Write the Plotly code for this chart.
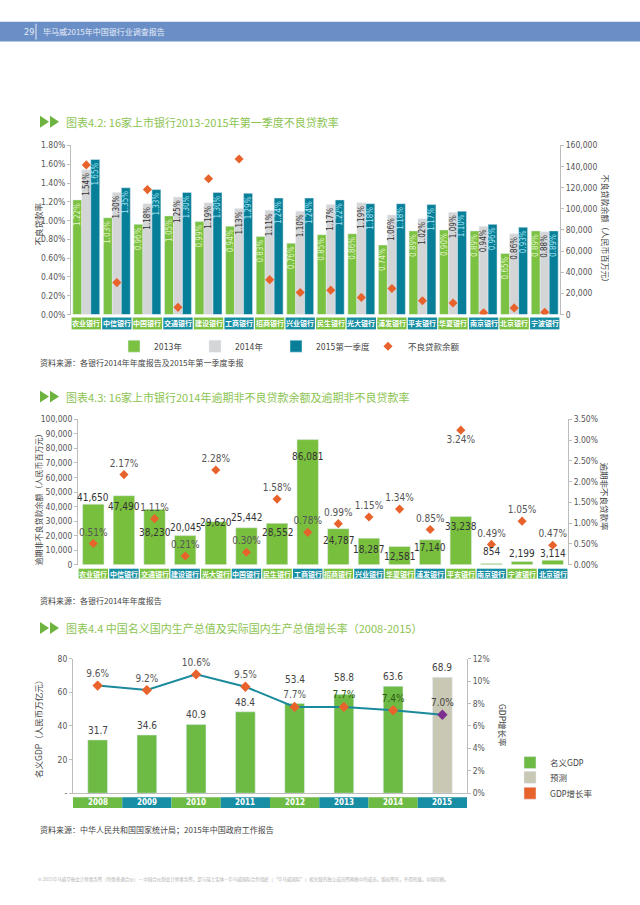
import plotly.graph_objects as go

# ---------------- data ----------------
banks1 = ["农业银行", "中信银行", "中国银行", "交通银行", "建设银行", "工商银行", "招商银行", "兴业银行",
          "民生银行", "光大银行", "浦发银行", "平安银行", "华夏银行", "南京银行", "北京银行", "宁波银行"]
npl_2013 = [1.22, 1.03, 0.96, 1.05, 0.99, 0.94, 0.83, 0.76, 0.85, 0.86, 0.74, 0.89, 0.90, 0.89, 0.65, 0.89]
npl_2014 = [1.54, 1.30, 1.18, 1.25, 1.19, 1.13, 1.11, 1.10, 1.17, 1.19, 1.06, 1.02, 1.09, 0.94, 0.86, 0.88]
npl_2015q1 = [1.65, 1.35, 1.33, 1.30, 1.30, 1.29, 1.24, 1.24, 1.22, 1.18, 1.18, 1.17, 1.10, 0.96, 0.93, 0.89]
npl_balance = [141600, 30200, 118200, 6800, 128500, 147200, 33000, 20900,
               23100, 16200, 24600, 13100, 10900, 1600, 6300, 2200]

banks2 = ["农业银行", "中信银行", "交通银行", "建设银行", "光大银行", "中国银行", "民生银行", "工商银行",
          "招商银行", "兴业银行", "华夏银行", "浦发银行", "平安银行", "南京银行", "宁波银行", "北京银行"]
overdue_balance = [41650, 47490, 38230, 20045, 29620, 25442, 28552, 86081,
                   24787, 18287, 12581, 17140, 33238, 854, 2199, 3114]
overdue_rate = [0.51, 2.17, 1.11, 0.21, 2.28, 0.30, 1.58, 0.78, 0.99, 1.15, 1.34, 0.85, 3.24, 0.49, 1.05, 0.47]

years = ["2008", "2009", "2010", "2011", "2012", "2013", "2014", "2015"]
gdp = [31.7, 34.6, 40.9, 48.4, 53.4, 58.8, 63.6, 68.9]
gdp_growth = [9.6, 9.2, 10.6, 9.5, 7.7, 7.7, 7.4, 7.0]
n_actual = 7  # 2015 is forecast

# ---------------- style ----------------
W, H = 640, 905
def PX(x): return x / W
def PY(y): return 1 - y / H

FONT = "Liberation Sans Narrow, DejaVu Sans Condensed, Noto Sans CJK SC, sans-serif"
CJK = "Noto Sans CJK SC, sans-serif"
GREEN = "#7cc242"
GRAY = "#d3d5d6"
TEAL = "#077f98"
BAND_TEAL = "#178ea4"
ORANGE = "#e8622c"
TITLE_GREEN = "#8cc452"
TICK = "#555555"

fig = go.Figure()
annotations = []
shapes = []

# ---------------- chart 1 ----------------
def npl_bar(vals, name, color, tcolor, leg):
    return go.Bar(x=banks1, y=vals, name=name, marker_color=color,
                  xaxis="x", yaxis="y", texttemplate="%{y:.2f}%", textposition="inside",
                  insidetextanchor="end", textangle=-90, constraintext="none",
                  textfont=dict(size=8, color=tcolor, family=FONT), legend=leg)

fig.add_trace(npl_bar(npl_2013, "2013年", GREEN, "#e4f4cc", "legend"))
fig.add_trace(npl_bar(npl_2014, "2014年", GRAY, "#333333", "legend2"))
fig.add_trace(npl_bar(npl_2015q1, "2015第一季度", TEAL, "#a6e3f2", "legend3"))
fig.add_trace(go.Scatter(x=banks1, y=npl_balance, name="不良贷款余额", mode="markers",
                         marker=dict(symbol="diamond", size=7, color=ORANGE),
                         xaxis="x", yaxis="y2", legend="legend4"))

# ---------------- chart 2 ----------------
fig.add_trace(go.Bar(x=banks2, y=overdue_balance, marker_color="#79bf3e", width=0.7,
                     xaxis="x2", yaxis="y3", showlegend=False))
# label offset from bar top in px (positive = below the top, as in the source layout)
label_offset2 = [-7, 11, 23, -8, 1, -10, 9, 17, 12, 11, 10, 8, 10, -12, -8, -7]
for i, (v, off) in enumerate(zip(overdue_balance, label_offset2)):
    annotations.append(dict(x=i, y=v, xref="x2", yref="y3", text=f"{v:,}", showarrow=False,
                            xanchor="center", yanchor="middle", yshift=-off,
                            font=dict(size=10, color="#333333", family=FONT)))
rate_pos = ["top center"] * len(overdue_rate)
rate_pos[12] = "bottom center"
fig.add_trace(go.Scatter(x=banks2, y=overdue_rate, mode="markers+text",
                         texttemplate="%{y:.2f}%", textposition=rate_pos,
                         textfont=dict(size=10, color="#555555", family=FONT),
                         marker=dict(symbol="diamond", size=7, color=ORANGE),
                         xaxis="x2", yaxis="y4", showlegend=False, cliponaxis=False))

# ---------------- chart 3 ----------------
fig.add_trace(go.Bar(x=years[:n_actual], y=gdp[:n_actual], name="名义GDP", marker_color="#6dbb45",
                     width=0.4, offsetgroup="g", xaxis="x3", yaxis="y5", legend="legend5"))
fig.add_trace(go.Bar(x=years[n_actual:], y=gdp[n_actual:], name="预测", marker_color="#c9c8b4",
                     width=0.4, offsetgroup="g", xaxis="x3", yaxis="y5", legend="legend6"))
fig.add_trace(go.Bar(x=[None], y=[None], name="GDP增长率", marker_color=ORANGE,
                     xaxis="x3", yaxis="y5", legend="legend7"))
growth_colors = [ORANGE] * n_actual + ["#7b2f8f"] * (len(years) - n_actual)
growth_text_colors = ["#555555"] * 5 + ["#2d5a14", "#2d5a14", "#444444"]
fig.add_trace(go.Scatter(x=years, y=gdp_growth, mode="lines+markers+text",
                         line=dict(color="#1b8a9c", width=2),
                         marker=dict(symbol="diamond", size=8, color=growth_colors),
                         texttemplate="%{y:.1f}%", textposition="top center",
                         textfont=dict(size=10, color=growth_text_colors, family=FONT),
                         xaxis="x3", yaxis="y6", showlegend=False, cliponaxis=False))

# gdp value labels (x given as category index)
gdp_shift = [2, 2, 2, 2, 16, 9, 2, 2]
for i, (v, s) in enumerate(zip(gdp, gdp_shift)):
    annotations.append(dict(x=i, y=v, xref="x3", yref="y5", text=f"{v:.1f}", showarrow=False,
                            xanchor="center", yanchor="bottom", yshift=s,
                            font=dict(size=10, color="#444444", family=FONT)))

# ---------------- axes ----------------
axis_common = dict(showgrid=False, zeroline=False, showline=True, linecolor="#bdbdbd", linewidth=1,
                   ticks="outside", ticklen=3, tickcolor="#bdbdbd",
                   tickfont=dict(size=8.5, color=TICK, family=FONT))
xcommon = dict(type="category", showgrid=False, zeroline=False, showticklabels=False, ticks="")

def one_legend(xpix, ypix):
    return dict(orientation="h", x=PX(xpix), xanchor="left", y=PY(ypix), yanchor="middle",
                font=dict(size=8.5, color="#444444", family=FONT), itemwidth=30,
                bgcolor="rgba(0,0,0,0)")

layout = dict(
    width=W, height=H, margin=dict(l=0, r=0, t=0, b=0),
    paper_bgcolor="white", plot_bgcolor="white",
    font=dict(family=FONT, color="#444444"),
    barmode="group", bargap=0.12, bargroupgap=0,
    xaxis=dict(domain=[PX(71), PX(560)], anchor="y", range=[-0.5, 15.5], showline=False, **xcommon),
    yaxis=dict(domain=[PY(313), PY(142)], range=[0, 1.8], dtick=0.2, tickformat=".2f", ticksuffix="%",
               anchor="x", **axis_common),
    yaxis2=dict(overlaying="y", side="right", anchor="x", range=[0, 160000], dtick=20000, tickformat=",d",
                **axis_common),
    xaxis2=dict(domain=[PX(78), PX(568)], anchor="y3", range=[-0.5, 15.5], showline=False, **xcommon),
    yaxis3=dict(domain=[PY(566), PY(419)], range=[0, 100000], dtick=10000, tickformat=",d",
                anchor="x2", **axis_common),
    yaxis4=dict(overlaying="y3", side="right", anchor="x2", range=[0, 3.5], dtick=0.5, tickformat=".2f",
                ticksuffix="%", **axis_common),
    xaxis3=dict(domain=[PX(73), PX(467)], anchor="y5", range=[-0.5, 7.5], showline=True,
                linecolor="#bdbdbd", **xcommon),
    yaxis5=dict(domain=[PY(797), PY(661)], range=[0, 80], tickvals=[0, 20, 40, 60, 80],
                ticktext=["-", "20", "40", "60", "80"], anchor="x3", **axis_common),
    yaxis6=dict(overlaying="y5", side="right", anchor="x3", range=[0, 12], tickvals=[0, 2, 4, 6, 8, 10, 12],
                ticktext=["0%", "2%", "4%", "6%", "8%", "10%", "12%"], **axis_common),
    legend=one_legend(114, 345),
    legend2=one_legend(195, 345),
    legend3=one_legend(276, 345),
    legend4=one_legend(368, 345),
    legend5=one_legend(510, 766),
    legend6=one_legend(510, 781),
    legend7=one_legend(510, 797),
)

# ---------------- category bands ----------------
def bands(cats, xref, y0, y1, half, colors, fsize, bold_font):
    for i, c in enumerate(cats):
        col = colors[i % 2]
        shapes.append(dict(type="rect", xref=xref, yref="paper", x0=i - half, x1=i + half,
                           y0=PY(y1), y1=PY(y0), fillcolor=col, line=dict(width=0), layer="below"))
        annotations.append(dict(x=i, xref=xref, y=(PY(y0) + PY(y1)) / 2, yref="paper", text=f"<b>{c}</b>",
                                xanchor="center", yanchor="middle", showarrow=False,
                                font=dict(size=fsize, color="white", family=bold_font)))

bands(banks1, "x", 316, 328, 0.48, [GREEN, BAND_TEAL], 7, CJK)
bands(banks2, "x2", 570, 580, 0.48, [GREEN, BAND_TEAL], 7, CJK)
bands(years, "x3", 801, 812, 0.5, ["#6dbb45", BAND_TEAL], 8, FONT)

# ---------------- header ----------------
shapes.append(dict(type="rect", xref="paper", yref="paper", x0=0, x1=1, y0=PY(37), y1=PY(17),
                   fillcolor="#6a8fc7", line=dict(width=0)))
shapes.append(dict(type="line", xref="paper", yref="paper", x0=PX(36), x1=PX(36), y0=PY(35), y1=PY(19),
                   line=dict(color="#e8eef8", width=1)))
annotations.append(dict(x=PX(22), y=PY(27), xref="paper", yref="paper", text="29", showarrow=False,
                        xanchor="left", yanchor="middle", font=dict(size=9, color="#e6ecf7", family=FONT)))
annotations.append(dict(x=PX(41), y=PY(27), xref="paper", yref="paper", text="毕马威2015年中国银行业调查报告",
                        showarrow=False, xanchor="left", yanchor="middle",
                        font=dict(size=8, color="#e6ecf7", family=CJK)))

# ---------------- titles ----------------
def title(ypix, text):
    for x0 in (40, 50):
        shapes.append(dict(type="path", xref="paper", yref="paper",
                           path=f"M {PX(x0)} {PY(ypix-6)} L {PX(x0+9)} {PY(ypix)} L {PX(x0)} {PY(ypix+6)} Z",
                           fillcolor="#6cb33f", line=dict(width=0)))
    annotations.append(dict(x=PX(64), y=PY(ypix), xref="paper", yref="paper", text=text, showarrow=False,
                            xanchor="left", yanchor="middle",
                            font=dict(size=11, color=TITLE_GREEN, family=CJK)))

title(118, "图表4.2: 16家上市银行2013-2015年第一季度不良贷款率")
title(396, "图表4.3: 16家上市银行2014年逾期非不良贷款余额及逾期非不良贷款率")
title(630, "图表4.4 中国名义国内生产总值及实际国内生产总值增长率（2008-2015）")

# ---------------- notes ----------------
def note(ypix, text, size=8, color="#444444", x=38):
    annotations.append(dict(x=PX(x), y=PY(ypix), xref="paper", yref="paper", text=text, showarrow=False,
                            xanchor="left", yanchor="middle",
                            font=dict(size=size, color=color, family=CJK)))

note(361, "资料来源：各银行2014年年度报告及2015年第一季度季报")
note(602, "资料来源：各银行2014年年度报告")
note(834, "资料来源：中华人民共和国国家统计局；2015年中国政府工作报告")
note(884, "© 2015毕马威华振会计师事务所（特殊普通合伙）— 中国合伙制会计师事务所，是与瑞士实体—毕马威国际合作组织（“毕马威国际”）"
          "相关联的独立成员所网络中的成员。版权所有，不得转载。中国印刷。", size=4.5, color="#b0b0b0", x=36)

# ---------------- axis titles ----------------
def vtitle(xpix, ypix, text, angle, size=8.5):
    annotations.append(dict(x=PX(xpix), y=PY(ypix), xref="paper", yref="paper", text=text, showarrow=False,
                            xanchor="center", yanchor="middle", textangle=angle,
                            font=dict(size=size, color="#444444", family=CJK)))

vtitle(38, 222, "不良贷款率", -90)
vtitle(606, 228, "不良贷款余额（人民币百万元）", 90, 8)
vtitle(38, 498, "逾期非不良贷款余额（人民币百万元）", -90, 8)
vtitle(605, 497, "逾期非不良贷款率", 90)
vtitle(38, 730, "名义GDP（人民币万亿元）", -90)
vtitle(503, 728, "GDP增长率", 90)

layout["annotations"] = annotations
layout["shapes"] = shapes
fig.update_layout(**layout)

fig.write_html("out.html", config={"displayModeBar": False})

# remove default page margin so the figure sits at the window origin
with open("out.html", encoding="utf-8") as f:
    html = f.read()
html = html.replace("<head>", "<head><style>html,body{margin:0;padding:0;overflow:hidden;}</style>", 1)
with open("out.html", "w", encoding="utf-8") as f:
    f.write(html)
